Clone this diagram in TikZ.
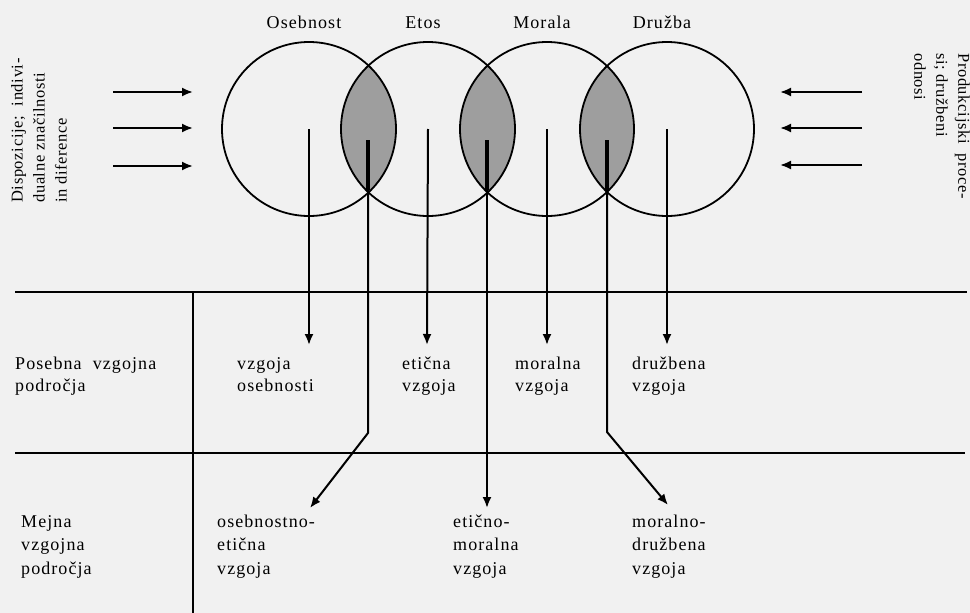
\documentclass[tikz,border=0pt]{standalone}
\usepackage{fontspec}
\setmainfont{Liberation Serif}[LetterSpace=6]
\newfontfamily\sidefont{Liberation Serif}[LetterSpace=4]
\usetikzlibrary{arrows.meta}
\definecolor{paper}{RGB}{241,241,241}
\definecolor{lensgray}{RGB}{158,158,158}
\newcommand{\mainfs}{\fontsize{18}{22}\selectfont}
\newcommand{\sidefs}{\sidefont\fontsize{16.5}{22}\selectfont}
\begin{document}
\begin{tikzpicture}[x=1pt,y=-1pt,
  arr/.style={-{Latex[length=11pt,width=9pt]}, line width=2pt},
  ring/.style={circle, draw, line width=1.8pt, minimum size=174pt, inner sep=0pt},
  lbl/.style={anchor=base west, align=left, inner sep=0pt, font=\mainfs},
  ttl/.style={anchor=base, inner sep=0pt, font=\mainfs},
  side/.style={align=left, inner sep=0pt, font=\sidefs},
  rulel/.style={line width=2pt},
  lensl/.style={line width=3.2pt}]
\fill[paper] (0,0) rectangle (970,613);
\useasboundingbox (0,0) rectangle (970,613);

% circle centres
\coordinate (o1) at (309,129);
\coordinate (o2) at (428,129);
\coordinate (o3) at (547,129);
\coordinate (o4) at (667,129);

% shaded lenses
\begin{scope}\clip (o1) circle[radius=87pt]; \fill[lensgray] (o2) circle[radius=87pt];\end{scope}
\begin{scope}\clip (o2) circle[radius=87pt]; \fill[lensgray] (o3) circle[radius=87pt];\end{scope}
\begin{scope}\clip (o3) circle[radius=87pt]; \fill[lensgray] (o4) circle[radius=87pt];\end{scope}

% circles
\node[ring] (c1) at (o1) {};
\node[ring] (c2) at (o2) {};
\node[ring] (c3) at (o3) {};
\node[ring] (c4) at (o4) {};

% titles
\node[ttl] (t1) at (304,28) {Osebnost};
\node[ttl] (t2) at (423,28) {Etos};
\node[ttl] (t3) at (542,28) {Morala};
\node[ttl] (t4) at (662,28) {Družba};

% side texts
\node[side, rotate=90, anchor=north west] (sl) at (11,203)
  {Dispozicije;\ \ indivi-\\dualne značilnosti\\in diference};
\node[side, rotate=-90, anchor=north west] (sr) at (970,53)
  {Produkcijski\ \ proce-\\si; družbeni\\odnosi};

% side arrows
\coordinate (la1) at (113,92);  \coordinate (lb1) at (193,92);
\coordinate (la2) at (113,128); \coordinate (lb2) at (193,128);
\coordinate (la3) at (113,166); \coordinate (lb3) at (193,166);
\draw[arr] (la1) -- (lb1);
\draw[arr] (la2) -- (lb2);
\draw[arr] (la3) -- (lb3);
\coordinate (ra1) at (862,92);  \coordinate (rb1) at (780,92);
\coordinate (ra2) at (862,128); \coordinate (rb2) at (780,128);
\coordinate (ra3) at (862,165); \coordinate (rb3) at (780,165);
\draw[arr] (ra1) -- (rb1);
\draw[arr] (ra2) -- (rb2);
\draw[arr] (ra3) -- (rb3);

% table rules
\coordinate (h1a) at (15,292);  \coordinate (h1b) at (967,292);
\coordinate (h2a) at (15,453);  \coordinate (h2b) at (965,453);
\coordinate (va) at (193,292);  \coordinate (vb) at (193,613);
\draw[rulel] (h1a) -- (h1b);
\draw[rulel] (h2a) -- (h2b);
\draw[rulel] (va) -- (vb);

% labels, first row (base = last line)
\node[lbl] (p0) at (15,391) {Posebna\ \ vzgojna\\področja};
\node[lbl] (p1) at (237,391) {vzgoja\\osebnosti};
\node[lbl] (p2) at (402,391) {etična\\vzgoja};
\node[lbl] (p3) at (515,391) {moralna\\vzgoja};
\node[lbl] (p4) at (632,391) {družbena\\vzgoja};

% labels, second row (base = last line)
\node[lbl, font=\fontsize{18}{23.5}\selectfont] (m0) at (21,574) {Mejna\\vzgojna\\področja};
\node[lbl, font=\fontsize{18}{23.5}\selectfont] (m1) at (217,574) {osebnostno-\\etična\\vzgoja};
\node[lbl, font=\fontsize{18}{23.5}\selectfont] (m2) at (453,574) {etično-\\moralna\\vzgoja};
\node[lbl, font=\fontsize{18}{23.5}\selectfont] (m3) at (632,574) {moralno-\\družbena\\vzgoja};

% arrows from circle centres
\coordinate (e1) at (309,345);
\coordinate (e2) at (427,345);
\coordinate (e3) at (547,345);
\coordinate (e4) at (667,345);
\draw[arr] (c1.center) -- (e1);
\draw[arr] (c2.center) -- (e2);
\draw[arr] (c3.center) -- (e3);
\draw[arr] (c4.center) -- (e4);

% arrows from lenses
\coordinate (s12) at (368,140); \coordinate (q12) at (368,190);
\coordinate (k12) at (368,433); \coordinate (f12) at (310,508);
\coordinate (s23) at (487,140); \coordinate (q23) at (487,190);
\coordinate (f23) at (487,508);
\coordinate (s34) at (607,140); \coordinate (q34) at (607,190);
\coordinate (k34) at (607,432); \coordinate (f34) at (668,505);
\draw[lensl] (s12) -- (q12);
\draw[lensl] (s23) -- (q23);
\draw[lensl] (s34) -- (q34);
\draw[arr] (s12) -- (k12) -- (f12);
\draw[arr] (s23) -- (f23);
\draw[arr] (s34) -- (k34) -- (f34);
\end{tikzpicture}
\end{document}
